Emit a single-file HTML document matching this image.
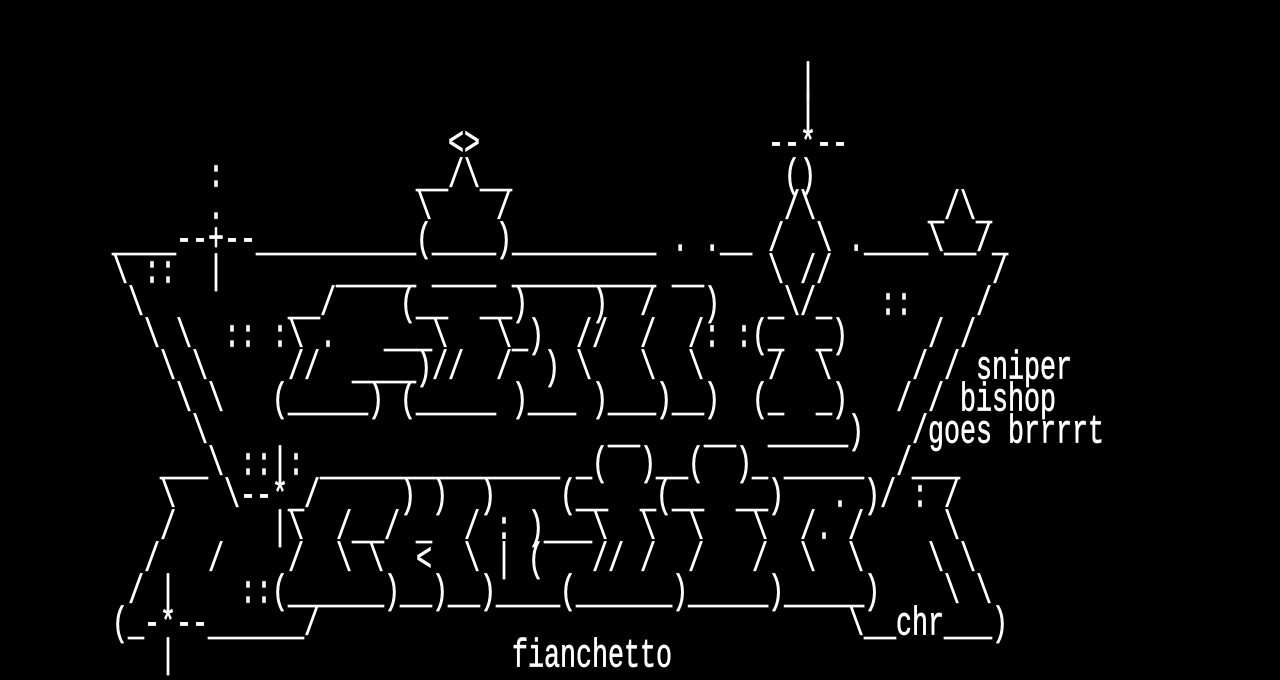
<!DOCTYPE html>
<html><head><meta charset="utf-8"><style>
html,body{margin:0;padding:0;background:#000;width:1280px;height:672px;overflow:hidden}
#a{position:absolute;left:0;top:0;width:960px;height:420px;transform:scale(1.33333,1.6);transform-origin:0 0;font-family:"Liberation Mono",monospace;font-size:20px;line-height:20px;color:#fff;-webkit-text-stroke:0.35px #fff}
#a span{position:absolute;white-space:pre;height:20px;transform:scaleY(1.25);transform-origin:0 4px}
</style></head><body><div id="a">
<span style="left:600px;top:40px">|</span>
<span style="left:600px;top:60px">|</span>
<span style="left:336px;top:80px">&lt;&gt;</span>
<span style="left:576px;top:80px">--*--</span>
<span style="left:156px;top:100px">:</span>
<span style="left:312px;top:100px">__/\__</span>
<span style="left:588px;top:100px">()</span>
<span style="left:156px;top:120px">.</span>
<span style="left:312px;top:120px">\    /</span>
<span style="left:588px;top:120px">/\</span>
<span style="left:696px;top:120px">_/\_</span>
<span style="left:84px;top:140px">____--+--__________(____)_________ . .__ /  \ .____\__/_</span>
<span style="left:84px;top:160px">\</span>
<span style="left:108px;top:160px">::</span>
<span style="left:156px;top:160px">|</span>
<span style="left:252px;top:160px">_____</span>
<span style="left:324px;top:160px">____</span>
<span style="left:384px;top:160px">_________</span>
<span style="left:504px;top:160px">__</span>
<span style="left:576px;top:160px">\ //</span>
<span style="left:744px;top:160px">/</span>
<span style="left:96px;top:180px">\</span>
<span style="left:216px;top:180px">__/</span>
<span style="left:300px;top:180px">(__</span>
<span style="left:360px;top:180px">__)</span>
<span style="left:444px;top:180px">)</span>
<span style="left:480px;top:180px">/</span>
<span style="left:528px;top:180px">)</span>
<span style="left:576px;top:180px">_\/_</span>
<span style="left:660px;top:180px">::</span>
<span style="left:732px;top:180px">/</span>
<span style="left:108px;top:200px">\</span>
<span style="left:132px;top:200px">\</span>
<span style="left:168px;top:200px">::</span>
<span style="left:204px;top:200px">:\</span>
<span style="left:240px;top:200px">.</span>
<span style="left:288px;top:200px">___\</span>
<span style="left:372px;top:200px">\_)</span>
<span style="left:432px;top:200px">//</span>
<span style="left:480px;top:200px">/</span>
<span style="left:516px;top:200px">/: :(_  _)</span>
<span style="left:696px;top:200px">/</span>
<span style="left:720px;top:200px">/</span>
<span style="left:120px;top:220px">\</span>
<span style="left:144px;top:220px">\</span>
<span style="left:216px;top:220px">//</span>
<span style="left:264px;top:220px">____)//</span>
<span style="left:372px;top:220px">/</span>
<span style="left:408px;top:220px">)</span>
<span style="left:432px;top:220px">\</span>
<span style="left:480px;top:220px">\</span>
<span style="left:516px;top:220px">\</span>
<span style="left:576px;top:220px">/  \</span>
<span style="left:684px;top:220px">/</span>
<span style="left:708px;top:220px">/</span>
<span style="left:732px;top:220px">sniper</span>
<span style="left:132px;top:240px">\</span>
<span style="left:156px;top:240px">\</span>
<span style="left:204px;top:240px">(_____)</span>
<span style="left:300px;top:240px">(_____</span>
<span style="left:384px;top:240px">)___</span>
<span style="left:444px;top:240px">)___)__)</span>
<span style="left:564px;top:240px">(_  _)</span>
<span style="left:672px;top:240px">/</span>
<span style="left:696px;top:240px">/</span>
<span style="left:720px;top:240px">bishop</span>
<span style="left:144px;top:260px">\</span>
<span style="left:456px;top:260px">__</span>
<span style="left:528px;top:260px">__</span>
<span style="left:576px;top:260px">_____)</span>
<span style="left:684px;top:260px">/goes brrrrt</span>
<span style="left:120px;top:280px">___\</span>
<span style="left:180px;top:280px">::|:</span>
<span style="left:240px;top:280px">_______________</span>
<span style="left:432px;top:280px">_(  )__(  )_</span>
<span style="left:588px;top:280px">_____</span>
<span style="left:672px;top:280px">/___</span>
<span style="left:120px;top:300px">\</span>
<span style="left:168px;top:300px">\--*_/</span>
<span style="left:300px;top:300px">)</span>
<span style="left:324px;top:300px">)</span>
<span style="left:360px;top:300px">)</span>
<span style="left:420px;top:300px">(__  _(__  __)</span>
<span style="left:624px;top:300px">.</span>
<span style="left:648px;top:300px">)/</span>
<span style="left:684px;top:300px">:</span>
<span style="left:708px;top:300px">/</span>
<span style="left:120px;top:320px">/</span>
<span style="left:204px;top:320px">|\</span>
<span style="left:252px;top:320px">/__/</span>
<span style="left:312px;top:320px">_</span>
<span style="left:348px;top:320px">/</span>
<span style="left:372px;top:320px">:</span>
<span style="left:396px;top:320px">)___\</span>
<span style="left:480px;top:320px">\</span>
<span style="left:516px;top:320px">\</span>
<span style="left:564px;top:320px">\</span>
<span style="left:600px;top:320px">/.</span>
<span style="left:636px;top:320px">/</span>
<span style="left:708px;top:320px">\</span>
<span style="left:108px;top:340px">/</span>
<span style="left:156px;top:340px">/</span>
<span style="left:216px;top:340px">/</span>
<span style="left:252px;top:340px">\</span>
<span style="left:276px;top:340px">\</span>
<span style="left:312px;top:340px">&lt;</span>
<span style="left:348px;top:340px">\</span>
<span style="left:372px;top:340px">|</span>
<span style="left:396px;top:340px">(</span>
<span style="left:444px;top:340px">//</span>
<span style="left:480px;top:340px">/</span>
<span style="left:516px;top:340px">/</span>
<span style="left:564px;top:340px">/</span>
<span style="left:600px;top:340px">\</span>
<span style="left:636px;top:340px">\</span>
<span style="left:696px;top:340px">\</span>
<span style="left:720px;top:340px">\</span>
<span style="left:96px;top:360px">/</span>
<span style="left:120px;top:360px">|</span>
<span style="left:180px;top:360px">::(______)__)__)____(______)_____)_____)</span>
<span style="left:708px;top:360px">\</span>
<span style="left:732px;top:360px">\</span>
<span style="left:84px;top:380px">(_-*--______/</span>
<span style="left:636px;top:380px">\__chr___)</span>
<span style="left:120px;top:400px">|</span>
<span style="left:384px;top:400px">fianchetto</span>
</div></body></html>
